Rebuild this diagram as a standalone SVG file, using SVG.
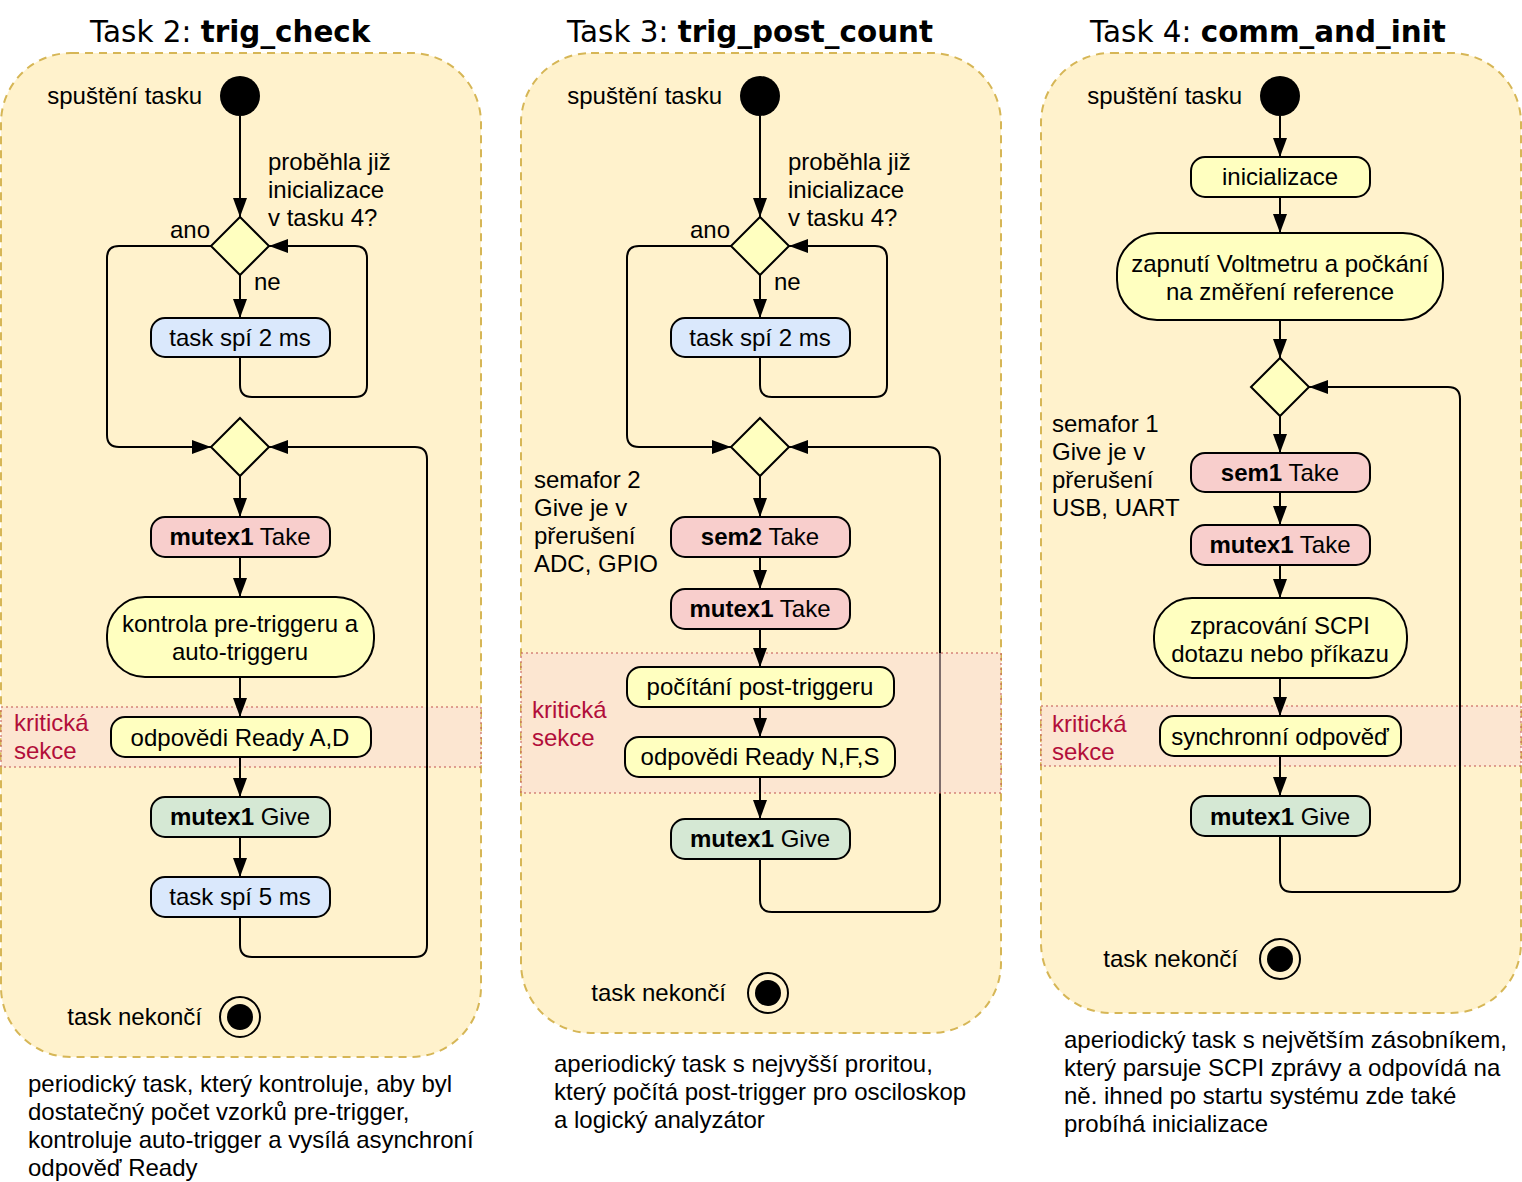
<svg xmlns="http://www.w3.org/2000/svg" width="1522" height="1182" viewBox="0 0 1522 1182">
  <defs>
    <marker id="arrow" viewBox="0 0 19 14" refX="19" refY="7" markerWidth="19" markerHeight="14" orient="auto" markerUnits="userSpaceOnUse">
      <path d="M0,0 L19,7 L0,14 Z" fill="#000"/>
    </marker>
    <style>
      .panel { fill: #fff2cc; stroke: #d6b656; stroke-width: 2; stroke-dasharray: 8 6; }
      .band { fill: #fad9d5; fill-opacity: 0.5; stroke: #c0504d; stroke-opacity: 0.5; stroke-width: 2; stroke-dasharray: 2 3; }
      .band-label { font-family: "Liberation Sans", Arial, sans-serif; font-size: 24px; fill: #b20e3a; }
      .title { font-family: "DejaVu Sans", Verdana, sans-serif; font-size: 29.4px; fill: #000; }
      .t { font-family: "Liberation Sans", Arial, sans-serif; font-size: 24px; fill: #000; }
      .c { text-anchor: middle; }
      .e { text-anchor: end; }
      .b { font-weight: bold; }
      .act { fill: #ffffc0; stroke: #000; stroke-width: 2; }
      .sleep { fill: #dae8fc; stroke: #000; stroke-width: 2; }
      .take { fill: #f8cecc; stroke: #000; stroke-width: 2; }
      .give { fill: #d5e8d4; stroke: #000; stroke-width: 2; }
      .dec { fill: #ffffc0; stroke: #000; stroke-width: 2; }
      .start { fill: #000; }
      .endring { fill: none; stroke: #000; stroke-width: 2; }
      .flow { fill: none; stroke: #000; stroke-width: 2; marker-end: url(#arrow); }
    </style>
  </defs>

  <rect width="1522" height="1182" fill="#fff"/>

  <!-- ===== Task 2: trig_check ===== -->
  <g id="task2">
    <text class="title" x="90" y="42">Task 2: <tspan class="b">trig_check</tspan></text>
    <rect class="panel" x="1" y="53" width="480" height="1004" rx="70"/>
    <rect class="band" x="1" y="707" width="480" height="60"/>
    <text class="band-label" x="14" y="731">kritická</text>
    <text class="band-label" x="14" y="759">sekce</text>

    <g id="t2-connectors">
      <path class="flow" d="M240,116 V217"/>
      <path class="flow" d="M240,275 V318"/>
      <path class="flow" d="M240,357 V385 Q240,397 252,397 H355 Q367,397 367,385 V258 Q367,246 355,246 H269"/>
      <path class="flow" d="M211,246 H119 Q107,246 107,258 V435 Q107,447 119,447 H211"/>
      <path class="flow" d="M240,476 V517"/>
      <path class="flow" d="M240,557 V597"/>
      <path class="flow" d="M240,677 V717"/>
      <path class="flow" d="M240,757 V797"/>
      <path class="flow" d="M240,837 V877"/>
      <path class="flow" d="M240,917 V945 Q240,957 252,957 H415 Q427,957 427,945 V459 Q427,447 415,447 H269"/>
    </g>

    <g id="t2-start">
      <circle class="start" cx="240" cy="96" r="20"/>
      <text class="t e" x="202" y="104">spuštění tasku</text>
    </g>
    <g id="t2-check">
      <polygon class="dec" points="240,217 269,246 240,275 211,246"/>
      <text class="t" x="268" y="170">proběhla již</text>
      <text class="t" x="268" y="198">inicializace</text>
      <text class="t" x="268" y="226">v tasku 4?</text>
      <text class="t e" x="210" y="238">ano</text>
      <text class="t" x="254" y="290">ne</text>
    </g>
    <g id="t2-sleep2">
      <rect class="sleep" x="151" y="318" width="179" height="39" rx="14"/>
      <text class="t c" x="240" y="346">task spí 2 ms</text>
    </g>
    <g id="t2-merge">
      <polygon class="dec" points="240,418 269,447 240,476 211,447"/>
    </g>
    <g id="t2-take">
      <rect class="take" x="151" y="517" width="179" height="40" rx="14"/>
      <text class="t c" x="240" y="545"><tspan class="b">mutex1</tspan> Take</text>
    </g>
    <g id="t2-control">
      <rect class="act" x="107" y="597" width="267" height="80" rx="38"/>
      <text class="t c" x="240" y="632">kontrola pre-triggeru a</text>
      <text class="t c" x="240" y="660">auto-triggeru</text>
    </g>
    <g id="t2-ready">
      <rect class="act" x="111" y="717" width="260" height="40" rx="14"/>
      <text class="t c" x="240" y="746">odpovědi Ready A,D</text>
    </g>
    <g id="t2-give">
      <rect class="give" x="151" y="797" width="179" height="40" rx="14"/>
      <text class="t c" x="240" y="825"><tspan class="b">mutex1</tspan> Give</text>
    </g>
    <g id="t2-sleep5">
      <rect class="sleep" x="151" y="877" width="179" height="40" rx="14"/>
      <text class="t c" x="240" y="905">task spí 5 ms</text>
    </g>
    <g id="t2-end">
      <circle class="endring" cx="240" cy="1017" r="20"/>
      <circle class="start" cx="240" cy="1017" r="13"/>
      <text class="t e" x="202" y="1025">task nekončí</text>
    </g>
    <g id="t2-note">
      <text class="t" x="28" y="1092">periodický task, který kontroluje, aby byl</text>
      <text class="t" x="28" y="1120">dostatečný počet vzorků pre-trigger,</text>
      <text class="t" x="28" y="1148">kontroluje auto-trigger a vysílá asynchroní</text>
      <text class="t" x="28" y="1176">odpověď Ready</text>
    </g>
  </g>

  <!-- ===== Task 3: trig_post_count ===== -->
  <g id="task3">
    <text class="title" x="567" y="42">Task 3: <tspan class="b">trig_post_count</tspan></text>
    <rect class="panel" x="521" y="53" width="480" height="980" rx="70"/>

    <!-- the return loop runs beneath the critical-section band -->
    <g id="t3-loop-back">
      <path class="flow" d="M760,859 V900 Q760,912 772,912 H928 Q940,912 940,900 V459 Q940,447 928,447 H789"/>
    </g>
    <rect class="band" x="521" y="653" width="480" height="140"/>
    <text class="band-label" x="532" y="718">kritická</text>
    <text class="band-label" x="532" y="746">sekce</text>

    <g id="t3-connectors">
      <path class="flow" d="M760,116 V217"/>
      <path class="flow" d="M760,275 V318"/>
      <path class="flow" d="M760,357 V385 Q760,397 772,397 H875 Q887,397 887,385 V258 Q887,246 875,246 H789"/>
      <path class="flow" d="M731,246 H639 Q627,246 627,258 V435 Q627,447 639,447 H731"/>
      <path class="flow" d="M760,476 V517"/>
      <path class="flow" d="M760,557 V589"/>
      <path class="flow" d="M760,629 V667"/>
      <path class="flow" d="M760,707 V737"/>
      <path class="flow" d="M760,777 V819"/>
    </g>

    <g id="t3-start">
      <circle class="start" cx="760" cy="96" r="20"/>
      <text class="t e" x="722" y="104">spuštění tasku</text>
    </g>
    <g id="t3-check">
      <polygon class="dec" points="760,217 789,246 760,275 731,246"/>
      <text class="t" x="788" y="170">proběhla již</text>
      <text class="t" x="788" y="198">inicializace</text>
      <text class="t" x="788" y="226">v tasku 4?</text>
      <text class="t e" x="730" y="238">ano</text>
      <text class="t" x="774" y="290">ne</text>
    </g>
    <g id="t3-sleep2">
      <rect class="sleep" x="671" y="318" width="179" height="39" rx="14"/>
      <text class="t c" x="760" y="346">task spí 2 ms</text>
    </g>
    <g id="t3-merge">
      <polygon class="dec" points="760,418 789,447 760,476 731,447"/>
    </g>
    <g id="t3-sem-note">
      <text class="t" x="534" y="488">semafor 2</text>
      <text class="t" x="534" y="516">Give je v</text>
      <text class="t" x="534" y="544">přerušení</text>
      <text class="t" x="534" y="572">ADC, GPIO</text>
    </g>
    <g id="t3-sem2">
      <rect class="take" x="671" y="517" width="179" height="40" rx="14"/>
      <text class="t c" x="760" y="545"><tspan class="b">sem2</tspan> Take</text>
    </g>
    <g id="t3-take">
      <rect class="take" x="671" y="589" width="179" height="40" rx="14"/>
      <text class="t c" x="760" y="617"><tspan class="b">mutex1</tspan> Take</text>
    </g>
    <g id="t3-count">
      <rect class="act" x="627" y="667" width="267" height="40" rx="14"/>
      <text class="t c" x="760" y="695">počítání post-triggeru</text>
    </g>
    <g id="t3-ready">
      <rect class="act" x="625" y="737" width="270" height="40" rx="14"/>
      <text class="t c" x="760" y="765">odpovědi Ready N,F,S</text>
    </g>
    <g id="t3-give">
      <rect class="give" x="671" y="819" width="179" height="40" rx="14"/>
      <text class="t c" x="760" y="847"><tspan class="b">mutex1</tspan> Give</text>
    </g>
    <g id="t3-end">
      <circle class="endring" cx="768" cy="993" r="20"/>
      <circle class="start" cx="768" cy="993" r="13"/>
      <text class="t e" x="726" y="1001">task nekončí</text>
    </g>
    <g id="t3-note">
      <text class="t" x="554" y="1072">aperiodický task s nejvyšší proritou,</text>
      <text class="t" x="554" y="1100">který počítá post-trigger pro osciloskop</text>
      <text class="t" x="554" y="1128">a logický analyzátor</text>
    </g>
  </g>

  <!-- ===== Task 4: comm_and_init ===== -->
  <g id="task4">
    <text class="title" x="1090" y="42">Task 4: <tspan class="b">comm_and_init</tspan></text>
    <rect class="panel" x="1041" y="53" width="480" height="960" rx="70"/>
    <rect class="band" x="1041" y="706" width="480" height="60"/>
    <text class="band-label" x="1052" y="732">kritická</text>
    <text class="band-label" x="1052" y="760">sekce</text>

    <g id="t4-connectors">
      <path class="flow" d="M1280,116 V157"/>
      <path class="flow" d="M1280,197 V233"/>
      <path class="flow" d="M1280,320 V358"/>
      <path class="flow" d="M1280,416 V453"/>
      <path class="flow" d="M1280,492 V525"/>
      <path class="flow" d="M1280,565 V598"/>
      <path class="flow" d="M1280,678 V716"/>
      <path class="flow" d="M1280,756 V796"/>
      <path class="flow" d="M1280,836 V880 Q1280,892 1292,892 H1448 Q1460,892 1460,880 V399 Q1460,387 1448,387 H1309"/>
    </g>

    <g id="t4-start">
      <circle class="start" cx="1280" cy="96" r="20"/>
      <text class="t e" x="1242" y="104">spuštění tasku</text>
    </g>
    <g id="t4-init">
      <rect class="act" x="1191" y="157" width="179" height="40" rx="14"/>
      <text class="t c" x="1280" y="185">inicializace</text>
    </g>
    <g id="t4-voltmeter">
      <rect class="act" x="1117" y="233" width="326" height="87" rx="40"/>
      <text class="t c" x="1280" y="272">zapnutí Voltmetru a počkání</text>
      <text class="t c" x="1280" y="300">na změření reference</text>
    </g>
    <g id="t4-merge">
      <polygon class="dec" points="1280,358 1309,387 1280,416 1251,387"/>
    </g>
    <g id="t4-sem-note">
      <text class="t" x="1052" y="432">semafor 1</text>
      <text class="t" x="1052" y="460">Give je v</text>
      <text class="t" x="1052" y="488">přerušení</text>
      <text class="t" x="1052" y="516">USB, UART</text>
    </g>
    <g id="t4-sem1">
      <rect class="take" x="1191" y="453" width="179" height="39" rx="14"/>
      <text class="t c" x="1280" y="481"><tspan class="b">sem1</tspan> Take</text>
    </g>
    <g id="t4-take">
      <rect class="take" x="1191" y="525" width="179" height="40" rx="14"/>
      <text class="t c" x="1280" y="553"><tspan class="b">mutex1</tspan> Take</text>
    </g>
    <g id="t4-scpi">
      <rect class="act" x="1154" y="598" width="253" height="80" rx="38"/>
      <text class="t c" x="1280" y="634">zpracování SCPI</text>
      <text class="t c" x="1280" y="662">dotazu nebo příkazu</text>
    </g>
    <g id="t4-reply">
      <rect class="act" x="1160" y="716" width="241" height="40" rx="14"/>
      <text class="t c" x="1280" y="745">synchronní odpověď</text>
    </g>
    <g id="t4-give">
      <rect class="give" x="1191" y="796" width="179" height="40" rx="14"/>
      <text class="t c" x="1280" y="825"><tspan class="b">mutex1</tspan> Give</text>
    </g>
    <g id="t4-end">
      <circle class="endring" cx="1280" cy="959" r="20"/>
      <circle class="start" cx="1280" cy="959" r="13"/>
      <text class="t e" x="1238" y="967">task nekončí</text>
    </g>
    <g id="t4-note">
      <text class="t" x="1064" y="1048">aperiodický task s největším zásobníkem,</text>
      <text class="t" x="1064" y="1076">který parsuje SCPI zprávy a odpovídá na</text>
      <text class="t" x="1064" y="1104">ně. ihned po startu systému zde také</text>
      <text class="t" x="1064" y="1132">probíhá inicializace</text>
    </g>
  </g>
</svg>
